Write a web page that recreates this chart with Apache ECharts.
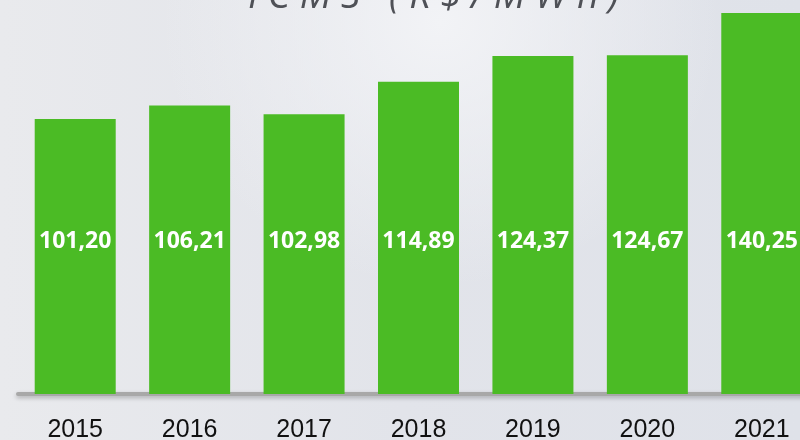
<!DOCTYPE html>
<html>
<head>
<meta charset="utf-8">
<script src="https://cdn.jsdelivr.net/npm/echarts@6/dist/echarts.min.js"></script>
<style>
  html, body { margin: 0; padding: 0; }
  .wrap { position: relative; width: 800px; height: 440px; overflow: hidden; }
  #main {
    width: 800px;
    height: 440px;
    background: radial-gradient(ellipse at 55% 5%, #f2f3f6 0%, rgba(242,243,246,0) 45%),
                linear-gradient(90deg, #e9eaed 0%, #e2e4ea 50%, #dfe2e9 100%);
  }
  .titulo {
    position: absolute;
    left: 248px;
    top: -33px;
    font: italic 38px "Open Sans", sans-serif;
    letter-spacing: 9.5px;
    color: #4f5157;
    white-space: nowrap;
  }
</style>
</head>
<body>
<div class="wrap">
  <div id="main"></div>
  <div class="titulo">ICMS (R$/MWh)</div>
</div>
<script>
// anos e valores do ICMS (R$/MWh)
var anos = ["2015", "2016", "2017", "2018", "2019", "2020", "2021"];
var valores = [101.20, 106.21, 102.98, 114.89, 124.37, 124.67, 140.25];

var myChart = echarts.init(document.getElementById("main"));
var option = {
  backgroundColor: "transparent",
  grid: { left: 18, width: 801, top: 0, bottom: 46, outerBoundsMode: "none" },
  xAxis: {
    type: "category",
    data: anos,
    axisTick: { show: false },
    axisLine: {
      lineStyle: {
        color: "#a8a8a8",
        width: 4,
        shadowColor: "rgba(0,0,0,0.25)",
        shadowBlur: 4,
        shadowOffsetY: 2
      }
    },
    axisLabel: {
      margin: 24,
      color: "#111",
      fontSize: 25,
      fontFamily: "Liberation Sans, Arial, sans-serif"
    }
  },
  yAxis: {
    type: "value",
    min: 0,
    max: 145,
    show: false
  },
  series: [
    {
      type: "bar",
      data: valores,
      barWidth: 81,
      itemStyle: { color: "#4bbb25" },
      label: {
        show: true,
        position: "insideBottom",
        distance: 141,
        color: "#fff",
        fontWeight: "bold",
        fontSize: 23,
        fontFamily: "Open Sans, sans-serif",
        formatter: function (p) {
          return p.value.toFixed(2).replace(".", ",");
        }
      }
    }
  ]
};
myChart.setOption(option);
</script>
</body>
</html>
